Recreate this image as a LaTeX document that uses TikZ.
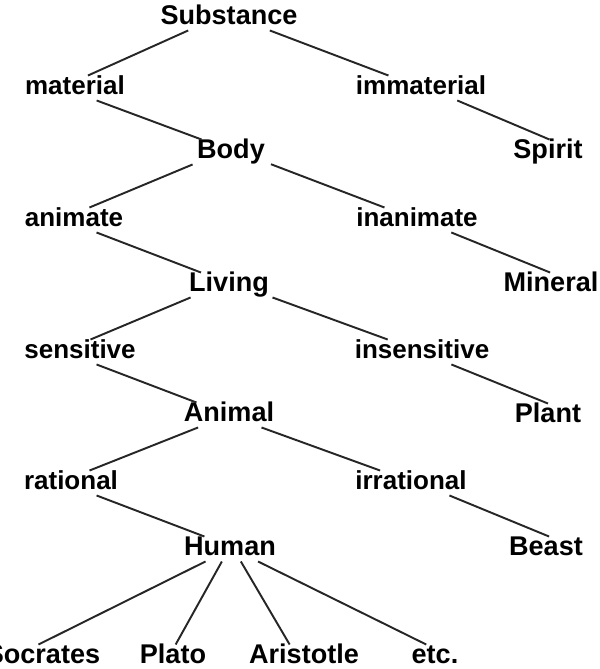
\documentclass[tikz,border=0pt]{standalone}
\usepackage{fontspec}
\setmainfont{Liberation Sans}
\usepackage{tikz}
\usetikzlibrary{positioning}
\tikzset{
  term/.style   = {inner sep=0pt,outer sep=3.5pt,text height=0.72em,
                   text depth=0pt,font=\bfseries\fontsize{15.4}{18}\selectfont},
  diffr/.style  = {term,font=\bfseries\fontsize{14.8}{17}\selectfont},
  branch/.style = {line width=1.1pt,draw=black!85},
}
\begin{document}
\begin{tikzpicture}
  \useasboundingbox (0,0) rectangle (12,13.38);
  % Genera and species (middle column)
  \node[term] (sub)    at (4.58,13.02) {Substance};
  \node[term] (body)   at (4.62,10.34) {Body};
  \node[term] (liv)    at (4.58,7.68)  {Living};
  \node[term] (animal) at (4.58,5.08)  {Animal};
  \node[term] (human)  at (4.60,2.40)  {Human};
  % Differentiae
  \node[diffr] (mat)    at (1.50,11.62) {material};
  \node[diffr] (imm)    at (8.42,11.62) {immaterial};
  \node[diffr] (anim)   at (1.48,8.98)  {animate};
  \node[diffr] (inan)   at (8.34,8.98)  {inanimate};
  \node[diffr] (sens)   at (1.60,6.34)  {sensitive};
  \node[diffr] (insens) at (8.44,6.34)  {insensitive};
  \node[diffr] (rat)    at (1.42,3.72)  {rational};
  \node[diffr] (irr)    at (8.22,3.72)  {irrational};
  % Right-hand leaves
  \node[term] (spirit) at (10.96,10.34) {Spirit};
  \node[term] (min)    at (11.02,7.68)  {Mineral};
  \node[term] (plant)  at (10.96,5.06)  {Plant};
  \node[term] (beast)  at (10.92,2.40)  {Beast};
  % Individuals
  \node[term] (soc)   at (0.86,0.24) {Socrates};
  \node[term] (plato) at (3.46,0.24) {Plato};
  \node[term] (arist) at (6.08,0.24) {Aristotle};
  \node[term] (etc)   at (8.70,0.24) {etc.};

  % Branches
  \foreach \a/\b in {sub.197/mat.44, sub.343/imm.159,
                     mat.330/body.157, imm.341/spirit.83,
                     body.198/anim.39, body.343/inan.159,
                     anim.331/liv.156, inan.340/min.94,
                     liv.198/sens.50, liv.344/insens.160,
                     sens.323/animal.159, insens.337/plant.90,
                     animal.202/rat.34, animal.339/irr.158,
                     rat.334/human.154, irr.342/beast.76}
    \draw[branch] (\a) -- (\b);
  \foreach \b/\s/\e in {soc/207/110, plato/237/78, arist/311/139, etc/336/125}
    \draw[branch] (human.\s) -- (\b.\e);
\end{tikzpicture}
\end{document}
